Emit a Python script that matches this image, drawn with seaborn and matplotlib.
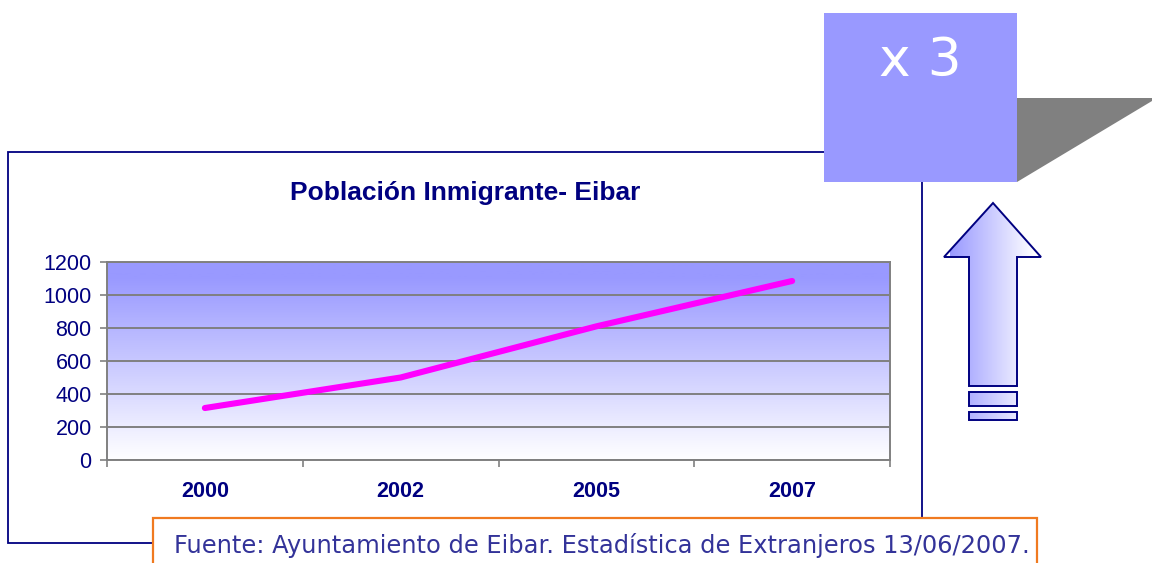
import numpy as np
import pandas as pd
import seaborn as sns
import matplotlib.pyplot as plt
from matplotlib.colors import LinearSegmentedColormap
from matplotlib.patches import Rectangle, Polygon, PathPatch
from matplotlib.path import Path

years = ["2000", "2002", "2005", "2007"]
poblacion = [315, 500, 810, 1085]
yticks = [0, 200, 400, 600, 800, 1000, 1200]

titulo = "Población Inmigrante- Eibar"
fuente = "Fuente: Ayuntamiento de Eibar. Estadística de Extranjeros 13/06/2007."
factor = "x 3"

NAVY = "#000080"
BLUE = "#9999FF"
GRAY = "#808080"

sns.set_style("white")
plt.rcParams['font.family'] = ['Liberation Sans', 'DejaVu Sans']

W, H = 1152, 563
fig = plt.figure(figsize=(W / 100, H / 100), dpi=100)

# chart area (pixel box 107..890 x 262..460)
ax = fig.add_axes([107 / W, 1 - 460 / H, 783 / W, 198 / H])
ax.set_zorder(1)

df = pd.DataFrame({"year": years, "poblacion": poblacion})
sns.lineplot(data=df, x="year", y="poblacion", ax=ax, color="#FF00FF",
             linewidth=4.4, solid_capstyle="round", zorder=5)

ax.set_xlim(-0.5, len(years) - 0.5)
ax.set_ylim(0, 1200)

# gradient background
grad = np.linspace(0, 1, 256).reshape(-1, 1)
grad = np.clip(grad * 1.08, 0, 1)
cmap = LinearSegmentedColormap.from_list("bg", ["#FFFFFF", BLUE])
ax.imshow(grad, extent=[-0.5, len(years) - 0.5, 0, 1200], origin="lower",
          aspect="auto", cmap=cmap, vmin=0, vmax=1, zorder=0)

ax.set_yticks(yticks)
ax.set_yticklabels([str(v) for v in yticks], color=NAVY, fontsize=15.5)
ax.grid(axis="y", color=GRAY, linewidth=1.4, zorder=1)
ax.grid(axis="x", visible=False)
ax.set_axisbelow(False)
for sp in ax.spines.values():
    sp.set_color(GRAY)
    sp.set_linewidth(1.4)

ax.set_xticks(np.arange(-0.5, len(years), 1.0))
ax.set_xticklabels([])
ax.set_xticks(range(len(years)), minor=True)
ax.set_xticklabels(years, minor=True, color=NAVY, fontsize=15.5, fontweight="bold")
ax.tick_params(axis="x", which="major", length=5, width=1.2, color=GRAY, direction="out", bottom=True)
ax.tick_params(axis="x", which="minor", length=0, pad=15)
ax.tick_params(axis="y", length=5, width=1.2, color=GRAY, direction="out", pad=6, left=True)
ax.set_xlabel("")
ax.set_ylabel("")

# overlay in pixel coordinates for frame, boxes and arrow
ov = fig.add_axes([0, 0, 1, 1])
ov.set_zorder(2)
ov.set_xlim(0, W)
ov.set_ylim(H, 0)
ov.axis("off")
ov.patch.set_alpha(0)

ov.add_patch(Rectangle((8, 152), 914, 391, fill=False, ec=NAVY, lw=1.3))
ov.text(465, 193, titulo, ha="center", va="center", color=NAVY,
        fontsize=19, fontweight="bold")

# "x 3" box with grey shadow
ov.add_patch(Polygon([(1017, 98), (1152, 98), (1152, 101), (1017, 182)],
                     closed=True, fc=GRAY, ec="none"))
ov.add_patch(Rectangle((824, 13), 193, 169, fc=BLUE, ec="none"))
ov.text(920, 61, factor, ha="center", va="center", color="white",
        fontsize=38.5, family="DejaVu Sans")

# up arrow with horizontal gradient
verts = [(993, 203), (1041, 257), (1017, 257), (1017, 386), (969, 386), (969, 257),
         (944, 257), (993, 203),
         (969, 392), (1017, 392), (1017, 406), (969, 406), (969, 392),
         (969, 412), (1017, 412), (1017, 420), (969, 420), (969, 412)]
codes = ([Path.MOVETO] + [Path.LINETO] * 6 + [Path.CLOSEPOLY]
         + [Path.MOVETO] + [Path.LINETO] * 3 + [Path.CLOSEPOLY]
         + [Path.MOVETO] + [Path.LINETO] * 3 + [Path.CLOSEPOLY])
arrow = PathPatch(Path(verts, codes), fc="none", ec=NAVY, lw=1.4, zorder=3)
ov.add_patch(arrow)
hgrad = np.linspace(1, 0, 256).reshape(1, -1)
im = ov.imshow(hgrad, extent=[950, 1035, 420, 203], aspect="auto", cmap=cmap,
               vmin=0, vmax=1, zorder=2)
im.set_clip_path(arrow)

# source box
ov.add_patch(Rectangle((153, 518), 884, 60, fc="white", ec="#F07A20", lw=1.6, zorder=4))
ov.text(174, 546, fuente, ha="left", va="center", color="#333399",
        fontsize=17.4, family="DejaVu Sans", zorder=5)

fig.savefig("out.png", dpi=100)
